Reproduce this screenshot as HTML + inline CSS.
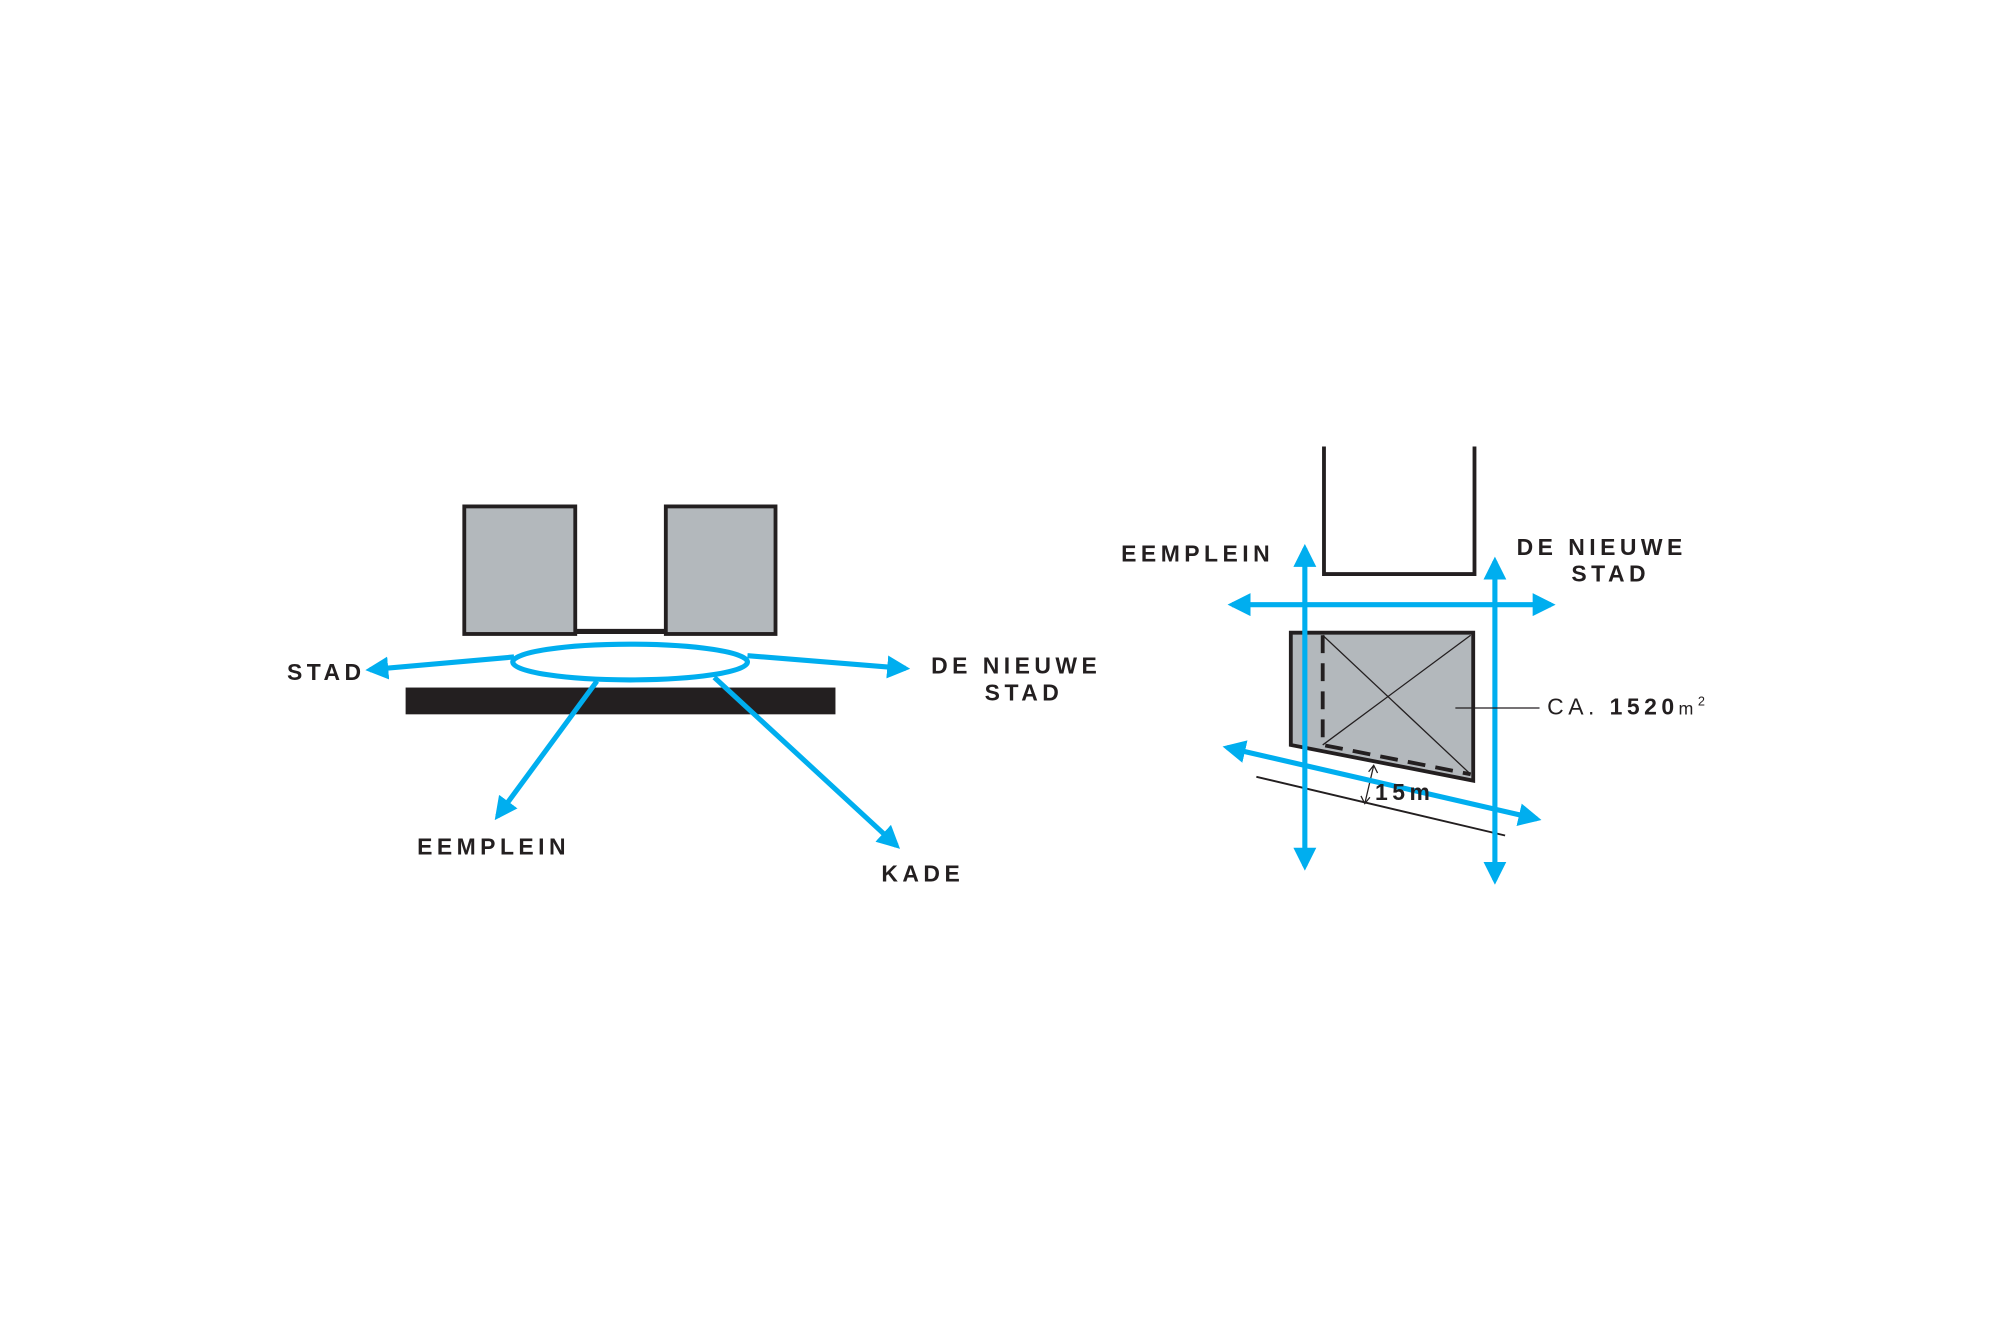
<!DOCTYPE html>
<html><head><meta charset="utf-8"><style>
html,body{margin:0;padding:0;background:#fff;}
svg{display:block;}
text{font-family:"Liberation Sans",sans-serif;font-weight:bold;fill:#231f20;font-size:18px;letter-spacing:3.5px;}
</style></head><body>
<svg width="2000" height="1333" viewBox="0 0 1568 1045" xmlns="http://www.w3.org/2000/svg">
<defs>
<marker id="ah" viewBox="0 0 10 10" refX="8" refY="5" markerWidth="4.5" markerHeight="4.5" orient="auto-start-reverse" markerUnits="strokeWidth">
<path d="M0,0 L10,5 L0,10 z" fill="#00aeef"/></marker>
</defs>
<rect x="364" y="397" width="87" height="100" fill="#b3b8bc" stroke="#231f20" stroke-width="3"/>
<rect x="522" y="397" width="86" height="100" fill="#b3b8bc" stroke="#231f20" stroke-width="3"/>
<line x1="451" y1="495" x2="522" y2="495" stroke="#231f20" stroke-width="4"/>
<rect x="318" y="539" width="337" height="21" fill="#231f20"/>
<g stroke="#00aeef" stroke-width="4" fill="none">
<ellipse cx="494" cy="519" rx="92" ry="14"/>
<line x1="403" y1="515" x2="290" y2="525" marker-end="url(#ah)"/>
<line x1="586" y1="514" x2="710" y2="524" marker-end="url(#ah)"/>
<line x1="468" y1="534" x2="390" y2="640" marker-end="url(#ah)"/>
<line x1="560" y1="531" x2="703" y2="663" marker-end="url(#ah)"/>
</g>
<text x="225" y="533">STAD</text>
<text x="730" y="528">DE NIEUWE</text>
<text x="772" y="549">STAD</text>
<text x="327" y="670">EEMPLEIN</text>
<text x="691" y="691">KADE</text>
<polyline points="1038,350 1038,450 1156,450 1156,350" fill="none" stroke="#231f20" stroke-width="3"/>
<polygon points="1012,496 1155,496 1155,612 1012,584" fill="#b3b8bc" stroke="#231f20" stroke-width="3"/>
<g stroke="#231f20" stroke-width="1">
<line x1="1037" y1="498" x2="1153" y2="607"/>
<line x1="1153" y1="498" x2="1037" y2="584"/>
</g>
<polyline points="1037,498 1037,584 1153,607" fill="none" stroke="#231f20" stroke-width="3" stroke-dasharray="14,8"/>
<line x1="985" y1="609" x2="1180" y2="655" stroke="#231f20" stroke-width="1.5"/>
<line x1="1077" y1="600" x2="1070" y2="630" stroke="#231f20" stroke-width="1"/>
<polyline points="1073,605 1077,600 1080,606" fill="none" stroke="#231f20" stroke-width="1"/>
<polyline points="1067,624 1070,630 1074,625" fill="none" stroke="#231f20" stroke-width="1"/>
<g stroke="#00aeef" stroke-width="4" fill="none">
<line x1="966" y1="474" x2="1216" y2="474" marker-start="url(#ah)" marker-end="url(#ah)"/>
<line x1="1023" y1="430" x2="1023" y2="679" marker-start="url(#ah)" marker-end="url(#ah)"/>
<line x1="1172" y1="440" x2="1172" y2="690" marker-start="url(#ah)" marker-end="url(#ah)"/>
<line x1="962" y1="586" x2="1205" y2="642" marker-start="url(#ah)" marker-end="url(#ah)"/>
</g>
<line x1="1141" y1="555" x2="1207" y2="555" stroke="#231f20" stroke-width="1"/>
<text x="1078" y="627">15m</text>
<text x="1213" y="560" style="font-weight:normal">CA. <tspan style="font-weight:bold">1520</tspan><tspan style="font-weight:normal;font-size:14px">m</tspan><tspan dy="-7" style="font-weight:normal;font-size:10px">2</tspan></text>
<text x="879" y="440">EEMPLEIN</text>
<text x="1189" y="435">DE NIEUWE</text>
<text x="1232" y="456">STAD</text>
</svg>
</body></html>
